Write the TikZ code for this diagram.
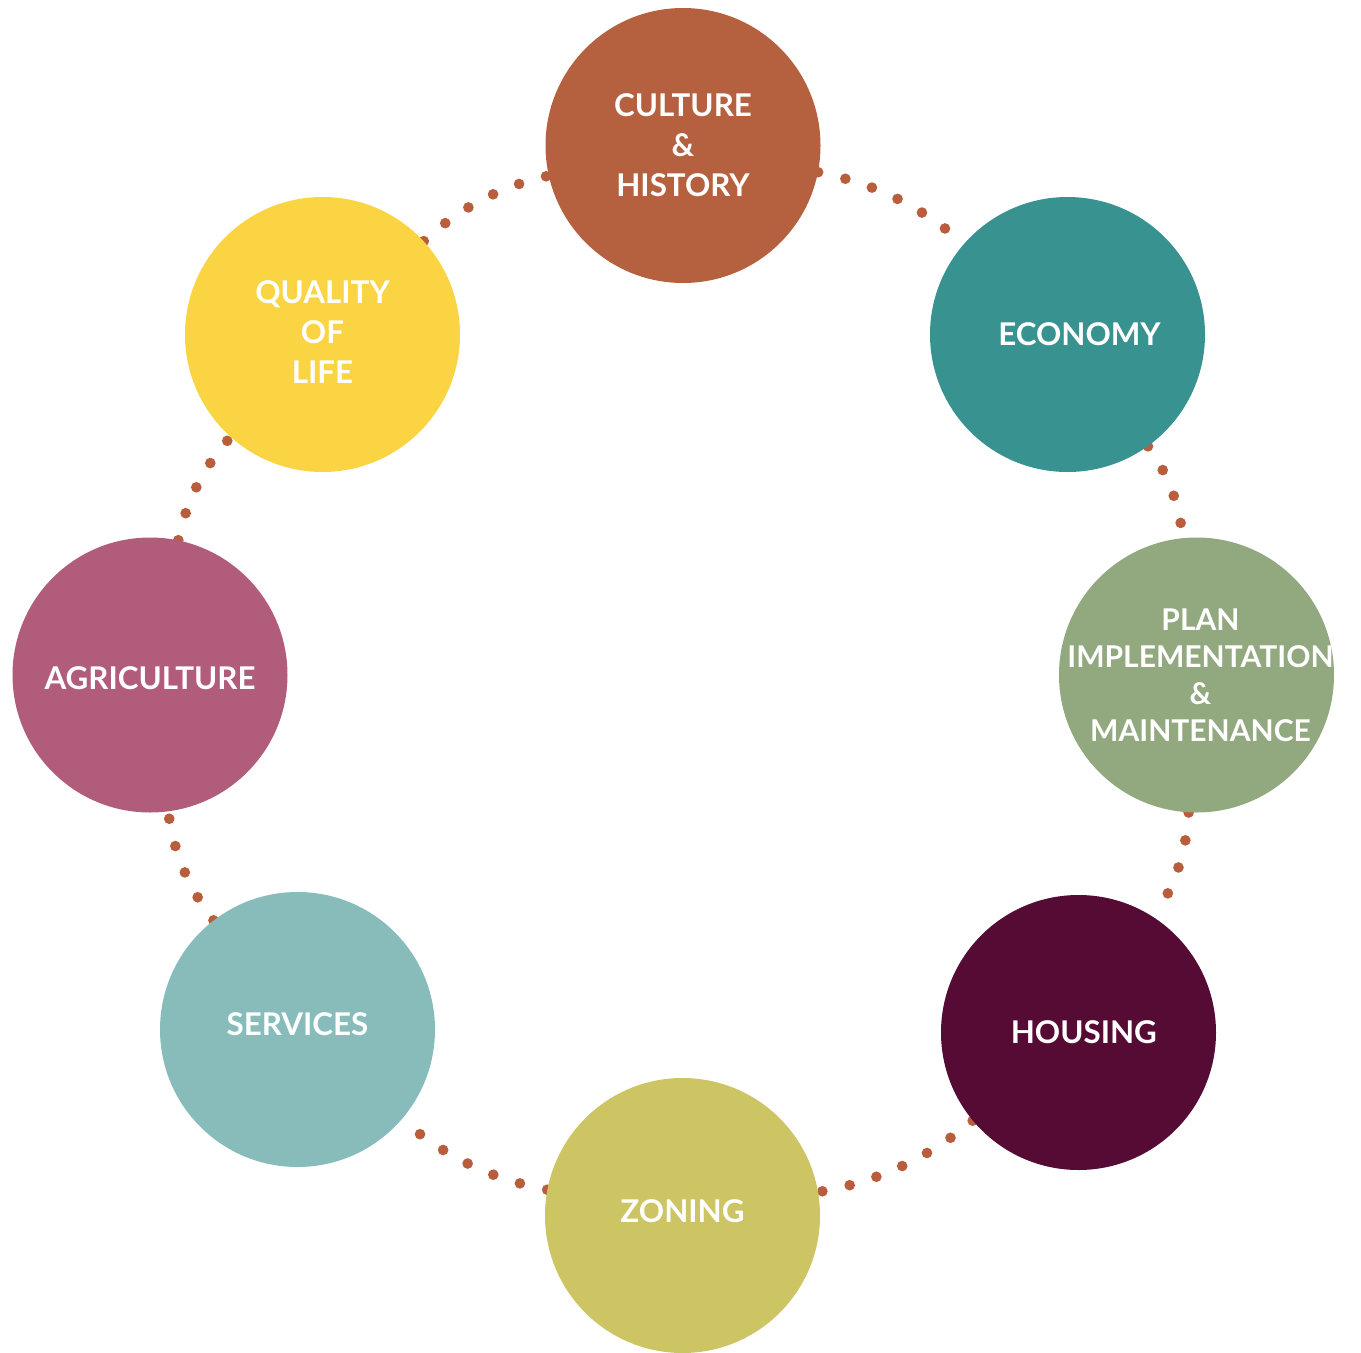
\documentclass[tikz,border=0pt]{standalone}
\usepackage{fontspec}
\setmainfont{Lato}
\usepackage{tikz}
\usetikzlibrary{backgrounds}
\usepackage{xcolor}

\definecolor{cultureC}{HTML}{B5613F}
\definecolor{economyC}{HTML}{389290}
\definecolor{planC}{HTML}{92A980}
\definecolor{housingC}{HTML}{560B34}
\definecolor{zoningC}{HTML}{CDC563}
\definecolor{servicesC}{HTML}{88BCBB}
\definecolor{agricultureC}{HTML}{B15C7B}
\definecolor{qualityC}{HTML}{FAD443}
\definecolor{dotC}{HTML}{B85E3C}

\begin{document}
\begin{tikzpicture}[x=0.75pt,y=0.75pt,yscale=-1,xscale=1,
  disc/.style={circle, minimum size=206.25pt, inner sep=0pt, draw=none},
  caption/.style={text=white, font=\bfseries\fontsize{23.5}{30}\selectfont, align=center, inner sep=0pt},
  dotline/.style={draw=dotC, line width=8pt, line cap=round, dash pattern=on 0pt off 21pt, looseness=0.9}]
\useasboundingbox (0,0) rectangle (1361,1353);

%Shape: Circles
\node [disc, fill=cultureC] (culture) at (683,145.5) {};
\node [disc, fill=economyC] (economy) at (1067.5,334.5) {};
\node [disc, fill=planC] (plan) at (1196.5,675) {};
\node [disc, fill=housingC] (housing) at (1078.5,1032.5) {};
\node [disc, fill=zoningC] (zoning) at (682.5,1215.5) {};
\node [disc, fill=servicesC] (services) at (297.5,1029.5) {};
\node [disc, fill=agricultureC] (agriculture) at (150,675) {};
\node [disc, fill=qualityC] (quality) at (322.5,334.5) {};

% Text Node
\node [caption] (culture-t) at (culture) {CULTURE\\\&\\HISTORY};
% Text Node
\node [caption] (economy-t) at ([xshift=9pt]economy) {ECONOMY};
% Text Node
\node [caption, font=\bfseries\fontsize{22.5}{27.75}\selectfont] (plan-t) at ([xshift=3pt]plan) {PLAN\\IMPLEMENTATION\\\&\\MAINTENANCE};
% Text Node
\node [caption] (housing-t) at ([xshift=4pt]housing) {HOUSING};
% Text Node
\node [caption] (zoning-t) at ([yshift=-3pt]zoning) {ZONING};
% Text Node
\node [caption] (services-t) at ([yshift=-4pt]services) {SERVICES};
% Text Node
\node [caption] (agriculture-t) at ([yshift=2pt]agriculture) {AGRICULTURE};
% Text Node
\node [caption] (quality-t) at ([yshift=-2pt]quality) {QUALITY\\OF\\LIFE};

%Dotted Lines
\begin{scope}[on background layer]
\draw [dotline] (culture) to [bend right=15] (economy);
\draw [dotline] (economy) to [bend right=15] (plan);
\draw [dotline] (plan) to [bend right=15] (housing);
\draw [dotline] (housing) to [bend right=15] (zoning);
\draw [dotline] (zoning) to [bend right=15] (services);
\draw [dotline] (services) to [bend right=15] (agriculture);
\draw [dotline] (agriculture) to [bend right=15] (quality);
\draw [dotline] (quality) to [bend right=15] (culture);
\end{scope}

\end{tikzpicture}
\end{document}
